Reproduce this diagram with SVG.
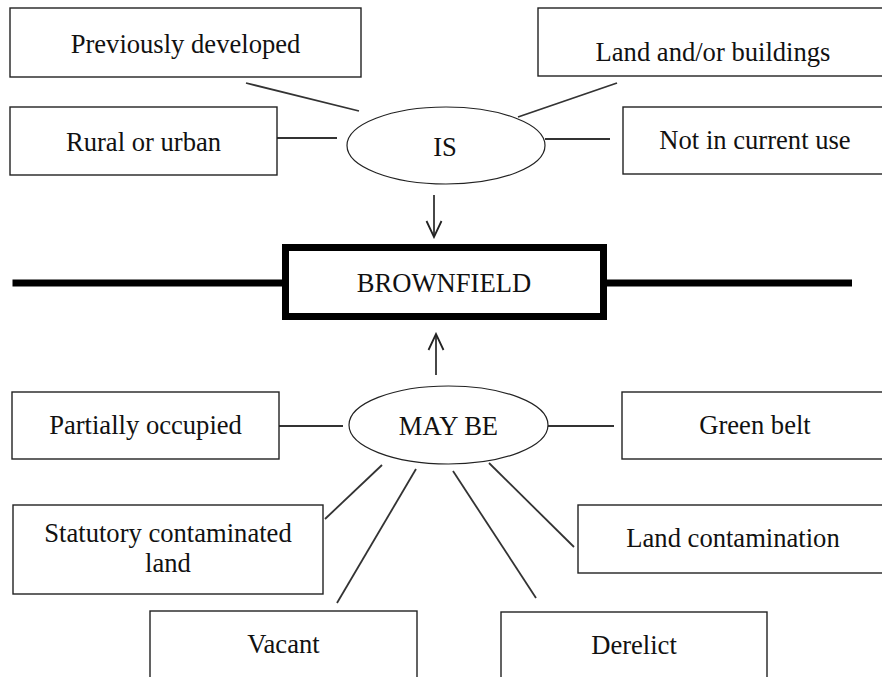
<svg xmlns="http://www.w3.org/2000/svg" width="882" height="677" viewBox="0 0 882 677">
<defs>
<style>
.box{fill:#fff;stroke:#222;stroke-width:1.4}
.ell{fill:#fff;stroke:#222;stroke-width:1.2}
.t{font-family:"Liberation Serif","Times New Roman",serif;font-size:26.6px;fill:#111;text-anchor:middle}
.ln{stroke:#333;stroke-width:1.8;fill:none}
.thick{stroke:#000;stroke-width:7;fill:none}
</style>
<marker id="ah" viewBox="0 0 20 20" refX="18" refY="10" markerWidth="20" markerHeight="20" markerUnits="userSpaceOnUse" orient="auto">
<path d="M2,2.5 L18,10 L2,17.5" fill="none" stroke="#222" stroke-width="1.8"/>
</marker>
</defs>
<rect width="882" height="677" fill="#fff"/>
<g id="connectors">
<line class="thick" x1="12.5" y1="283" x2="285" y2="283"/>
<line class="thick" x1="604" y1="283" x2="852" y2="283"/>
<line class="ln" x1="246" y1="83" x2="359" y2="111"/>
<line class="ln" x1="277" y1="138" x2="337" y2="138"/>
<line class="ln" x1="617" y1="83" x2="518" y2="117"/>
<line class="ln" x1="545" y1="139" x2="610" y2="139"/>
<line class="ln" x1="434" y1="195" x2="434" y2="237" marker-end="url(#ah)"/>
<line class="ln" x1="436" y1="375" x2="436" y2="334" marker-end="url(#ah)"/>
<line class="ln" x1="279" y1="426" x2="343" y2="426"/>
<line class="ln" x1="548" y1="426" x2="614" y2="426"/>
<line class="ln" x1="325" y1="519" x2="382" y2="465"/>
<line class="ln" x1="337" y1="603" x2="416" y2="469"/>
<line class="ln" x1="453" y1="471" x2="536" y2="598"/>
<line class="ln" x1="489" y1="463" x2="574" y2="547"/>
</g>
<g id="previously-developed"><rect class="box" x="10" y="8" width="351" height="69"/><text class="t" x="185.5" y="53">Previously developed</text></g>
<g id="rural-or-urban"><rect class="box" x="10" y="107" width="267" height="68"/><text class="t" x="143.5" y="151">Rural or urban</text></g>
<g id="land-buildings"><rect class="box" x="538" y="8" width="350" height="68"/><text class="t" x="713" y="61">Land and/or buildings</text></g>
<g id="not-in-current-use"><rect class="box" x="623" y="107" width="265" height="67"/><text class="t" x="755" y="149">Not in current use</text></g>
<g id="is"><ellipse class="ell" cx="446" cy="145.5" rx="99" ry="38.5"/><text class="t" x="445" y="156">IS</text></g>
<g id="brownfield"><rect x="285.5" y="247.5" width="318" height="69" fill="#fff" stroke="#000" stroke-width="7"/><text class="t" x="444" y="292">BROWNFIELD</text></g>
<g id="may-be"><ellipse class="ell" cx="448.5" cy="425" rx="99.5" ry="39"/><text class="t" x="448.5" y="435">MAY BE</text></g>
<g id="partially-occupied"><rect class="box" x="12" y="392" width="267" height="67"/><text class="t" x="145.5" y="434">Partially occupied</text></g>
<g id="green-belt"><rect class="box" x="622" y="392" width="266" height="67"/><text class="t" x="755" y="434">Green belt</text></g>
<g id="statutory-contaminated-land"><rect class="box" x="13" y="505" width="310" height="89"/><text class="t" x="168" y="542">Statutory contaminated</text><text class="t" x="168" y="572">land</text></g>
<g id="land-contamination"><rect class="box" x="578" y="505" width="310" height="68"/><text class="t" x="733" y="547">Land contamination</text></g>
<g id="vacant"><rect class="box" x="150" y="611" width="267" height="80"/><text class="t" x="283.5" y="653">Vacant</text></g>
<g id="derelict"><rect class="box" x="501" y="612" width="266" height="80"/><text class="t" x="634" y="654">Derelict</text></g>
</svg>
